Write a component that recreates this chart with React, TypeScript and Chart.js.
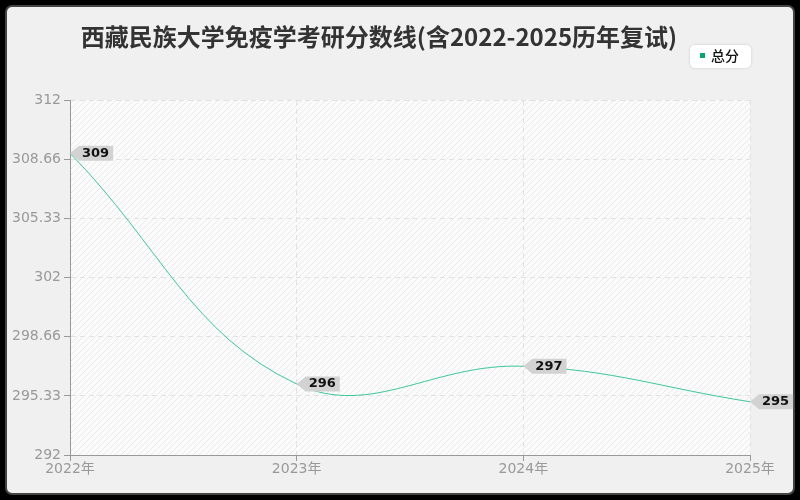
import { useEffect, useRef } from 'react';
import { Chart, registerables } from 'chart.js';

Chart.register(...registerables);

const chartTitle = '西藏民族大学免疫学考研分数线(含2022-2025历年复试)';
const seriesName = '总分';
const years = ['2022年', '2023年', '2024年', '2025年'];
const scores = [309, 296, 297, 295];
const yTicks = [292, 295.33, 298.66, 302, 305.33, 308.66, 312];

const lineColor = '#3cc79a';
const tickFont = '"DejaVu Sans", "Noto Sans CJK SC", sans-serif';

// diagonal hatch behind the plot area
function makeHatch(ctx: CanvasRenderingContext2D) {
  const c = document.createElement('canvas');
  c.width = 6;
  c.height = 6;
  const p = c.getContext('2d')!;
  p.fillStyle = '#fbfbfb';
  p.fillRect(0, 0, 6, 6);
  p.strokeStyle = '#eaeaea';
  p.lineWidth = 1;
  p.beginPath();
  p.moveTo(0, 6);
  p.lineTo(6, 0);
  p.moveTo(-1, 1);
  p.lineTo(1, -1);
  p.moveTo(5, 7);
  p.lineTo(7, 5);
  p.stroke();
  return ctx.createPattern(c, 'repeat');
}

const decorPlugin = {
  id: 'decor',
  beforeDraw(chart: any) {
    const { ctx, chartArea } = chart;
    ctx.save();
    const pat = makeHatch(ctx);
    if (pat) ctx.fillStyle = pat;
    ctx.fillRect(chartArea.left, chartArea.top, chartArea.right - chartArea.left, chartArea.bottom - chartArea.top);
    ctx.restore();
  },
  afterDraw(chart: any) {
    const { ctx } = chart;
    ctx.save();
    // title
    ctx.font = 'bold 24px "Noto Sans CJK SC", sans-serif';
    ctx.fillStyle = '#333333';
    ctx.textAlign = 'center';
    ctx.textBaseline = 'middle';
    ctx.fillText(chartTitle, 379, 37);

    // legend box
    ctx.shadowColor = 'rgba(0,0,0,0.15)';
    ctx.shadowBlur = 3;
    ctx.fillStyle = '#ffffff';
    ctx.beginPath();
    ctx.roundRect(690, 45, 61, 23, 5);
    ctx.fill();
    ctx.shadowColor = 'transparent';
    ctx.fillStyle = '#00a86b';
    ctx.fillRect(700, 53, 5, 5);
    ctx.fillStyle = '#111111';
    ctx.font = '500 14px "Noto Sans CJK SC", sans-serif';
    ctx.textAlign = 'left';
    ctx.fillText(seriesName, 711, 56);

    // value tags
    const meta = chart.getDatasetMeta(0);
    ctx.font = 'bold 13px "DejaVu Sans", sans-serif';
    meta.data.forEach((pt: any, i: number) => {
      const x = pt.x;
      const y = pt.y;
      const label = String(scores[i]);
      const w = ctx.measureText(label).width + 7;
      const h = 15;
      ctx.fillStyle = '#d2d2d2';
      ctx.beginPath();
      ctx.moveTo(x, y);
      ctx.lineTo(x + 9, y - h / 2);
      ctx.lineTo(x + 9 + w, y - h / 2);
      ctx.lineTo(x + 9 + w, y + h / 2);
      ctx.lineTo(x + 9, y + h / 2);
      ctx.closePath();
      ctx.fill();
      ctx.fillStyle = '#111111';
      ctx.textAlign = 'left';
      ctx.textBaseline = 'middle';
      ctx.fillText(label, x + 12, y);
    });
    ctx.restore();
  },
};

export default function App() {
  const canvasRef = useRef<HTMLCanvasElement>(null);

  useEffect(() => {
    if (!canvasRef.current) return;
    const chart = new Chart(canvasRef.current, {
      type: 'line',
      data: {
        labels: years,
        datasets: [
          {
            label: seriesName,
            data: scores,
            borderColor: lineColor,
            borderWidth: 1,
            tension: 0.4,
            pointRadius: 0,
            fill: false,
          },
        ],
      },
      options: {
        responsive: false,
        animation: false,
        layout: { padding: { left: 0, top: 100, right: 50, bottom: 0 } },
        plugins: {
          legend: { display: false },
          title: { display: false },
          tooltip: { enabled: false },
        },
        scales: {
          x: {
            offset: false,
            afterFit: (s: any) => {
              s.height = 45;
            },
            grid: {
              color: '#e2e2e2',
              tickColor: '#999999',
              tickLength: 6,
              drawTicks: true,
            },
            border: { color: '#999999', dash: [5, 4] },
            ticks: {
              color: '#999999',
              font: { family: tickFont, size: 14 },
              padding: 0,
              maxRotation: 0,
            },
          },
          y: {
            min: 292,
            max: 312,
            afterFit: (s: any) => {
              s.width = 70;
            },
            afterBuildTicks: (s: any) => {
              s.ticks = yTicks.map((v) => ({ value: v }));
            },
            grid: {
              color: '#e2e2e2',
              tickColor: '#999999',
              tickLength: 6,
            },
            border: { color: '#999999', dash: [5, 4] },
            ticks: {
              color: '#999999',
              font: { family: tickFont, size: 14 },
              padding: 3,
              callback: (v: any) => String(v),
            },
          },
        },
      },
      plugins: [decorPlugin],
    });
    return () => chart.destroy();
  }, []);

  return (
    <div style={{ position: 'fixed', left: 0, top: 0, width: 800, height: 500, background: '#000' }}>
      <div
        style={{
          position: 'absolute',
          left: 5,
          top: 5,
          width: 786,
          height: 486,
          background: '#f0f0f0',
          border: '2px solid #444',
          borderRadius: 7,
        }}
      />
      <canvas ref={canvasRef} width={800} height={500} style={{ position: 'absolute', left: 0, top: 0 }} />
    </div>
  );
}
